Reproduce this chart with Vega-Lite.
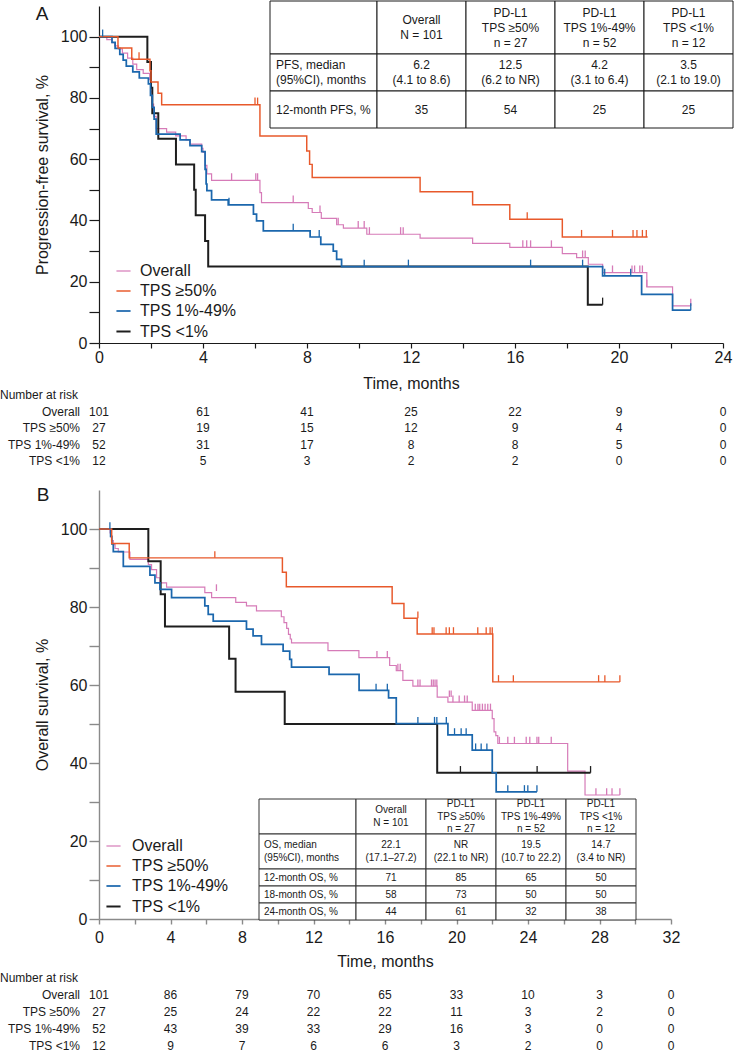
{
 "$schema": "https://vega.github.io/schema/vega-lite/v6.json",
 "padding": 0,
 "background": "white",
 "config": {"view": {"stroke": null}, "font": "Liberation Sans", "scale": {"bandPaddingInner": 0, "bandPaddingOuter": 0}},
 "datasets": {
  "curvesA": [
   {"group":"Overall","t":0,"s":100},{"group":"Overall","t":0.3,"s":99},{"group":"Overall","t":0.5,"s":98},{"group":"Overall","t":0.6,"s":97},{"group":"Overall","t":0.75,"s":96},{"group":"Overall","t":0.9,"s":94.6},{"group":"Overall","t":1.1,"s":93},{"group":"Overall","t":1.3,"s":91},{"group":"Overall","t":1.45,"s":89.2},{"group":"Overall","t":1.7,"s":88},{"group":"Overall","t":1.95,"s":86},{"group":"Overall","t":2.0,"s":82},{"group":"Overall","t":2.05,"s":78},{"group":"Overall","t":2.1,"s":74},{"group":"Overall","t":2.2,"s":70},{"group":"Overall","t":2.6,"s":68.8},{"group":"Overall","t":2.95,"s":67.6},{"group":"Overall","t":3.35,"s":66.3},{"group":"Overall","t":3.5,"s":64.9},{"group":"Overall","t":3.95,"s":63.5},{"group":"Overall","t":4.0,"s":62.2},{"group":"Overall","t":4.08,"s":58},{"group":"Overall","t":4.15,"s":55.2},{"group":"Overall","t":4.33,"s":53.1},{"group":"Overall","t":6.19,"s":49.1},{"group":"Overall","t":6.25,"s":45.8},{"group":"Overall","t":8.05,"s":43.9},{"group":"Overall","t":8.2,"s":42.6},{"group":"Overall","t":8.55,"s":40.7},{"group":"Overall","t":9.14,"s":38.6},{"group":"Overall","t":9.4,"s":37.5},{"group":"Overall","t":10.3,"s":35.5},{"group":"Overall","t":12.35,"s":34.2},{"group":"Overall","t":14.37,"s":32.5},{"group":"Overall","t":15.8,"s":31.2},{"group":"Overall","t":17.82,"s":29.2},{"group":"Overall","t":18.37,"s":27.9},{"group":"Overall","t":18.82,"s":25.7},{"group":"Overall","t":19.37,"s":23.0},{"group":"Overall","t":21.07,"s":18.3},{"group":"Overall","t":22.06,"s":12.1},{"group":"Overall","t":22.76,"s":12.1},
   {"group":"TPS <1%","t":0,"s":100},{"group":"TPS <1%","t":1.86,"s":91.7},{"group":"TPS <1%","t":2.0,"s":83.3},{"group":"TPS <1%","t":2.05,"s":75},{"group":"TPS <1%","t":2.28,"s":66.7},{"group":"TPS <1%","t":2.96,"s":58.3},{"group":"TPS <1%","t":3.66,"s":50},{"group":"TPS <1%","t":3.72,"s":41.7},{"group":"TPS <1%","t":4.08,"s":33.3},{"group":"TPS <1%","t":4.2,"s":25},{"group":"TPS <1%","t":18.8,"s":12.5},{"group":"TPS <1%","t":19.37,"s":12.5},
   {"group":"TPS 1%-49%","t":0,"s":100},{"group":"TPS 1%-49%","t":0.5,"s":98.1},{"group":"TPS 1%-49%","t":0.62,"s":96.2},{"group":"TPS 1%-49%","t":0.8,"s":94.2},{"group":"TPS 1%-49%","t":0.93,"s":92.3},{"group":"TPS 1%-49%","t":1.05,"s":90.4},{"group":"TPS 1%-49%","t":1.3,"s":88.5},{"group":"TPS 1%-49%","t":1.55,"s":86.5},{"group":"TPS 1%-49%","t":1.9,"s":84.6},{"group":"TPS 1%-49%","t":1.98,"s":80.8},{"group":"TPS 1%-49%","t":2.05,"s":76.9},{"group":"TPS 1%-49%","t":2.12,"s":73.1},{"group":"TPS 1%-49%","t":2.2,"s":68.2},{"group":"TPS 1%-49%","t":3.12,"s":66.3},{"group":"TPS 1%-49%","t":3.5,"s":64.4},{"group":"TPS 1%-49%","t":3.95,"s":62.5},{"group":"TPS 1%-49%","t":4.08,"s":56.7},{"group":"TPS 1%-49%","t":4.12,"s":51.9},{"group":"TPS 1%-49%","t":4.15,"s":49.7},{"group":"TPS 1%-49%","t":4.33,"s":46.7},{"group":"TPS 1%-49%","t":4.97,"s":45.1},{"group":"TPS 1%-49%","t":5.94,"s":42.1},{"group":"TPS 1%-49%","t":6.06,"s":39.9},{"group":"TPS 1%-49%","t":6.32,"s":36.6},{"group":"TPS 1%-49%","t":8.12,"s":34.6},{"group":"TPS 1%-49%","t":8.53,"s":32.2},{"group":"TPS 1%-49%","t":9.01,"s":30.0},{"group":"TPS 1%-49%","t":9.14,"s":27.3},{"group":"TPS 1%-49%","t":9.33,"s":24.9},{"group":"TPS 1%-49%","t":19.37,"s":21.9},{"group":"TPS 1%-49%","t":20.87,"s":15.9},{"group":"TPS 1%-49%","t":22.06,"s":10.7},{"group":"TPS 1%-49%","t":22.76,"s":10.7},
   {"group":"TPS ≥50%","t":0,"s":100},{"group":"TPS ≥50%","t":0.73,"s":96.3},{"group":"TPS ≥50%","t":1.26,"s":92.6},{"group":"TPS ≥50%","t":1.96,"s":88.9},{"group":"TPS ≥50%","t":2.0,"s":85.2},{"group":"TPS ≥50%","t":2.27,"s":81.5},{"group":"TPS ≥50%","t":2.41,"s":77.8},{"group":"TPS ≥50%","t":6.19,"s":67.6},{"group":"TPS ≥50%","t":7.99,"s":62.7},{"group":"TPS ≥50%","t":8.1,"s":58.3},{"group":"TPS ≥50%","t":8.2,"s":54.0},{"group":"TPS ≥50%","t":12.35,"s":49.4},{"group":"TPS ≥50%","t":14.37,"s":45.1},{"group":"TPS ≥50%","t":15.8,"s":40.4},{"group":"TPS ≥50%","t":17.82,"s":34.6},{"group":"TPS ≥50%","t":21.1,"s":34.6}
  ],
  "censA": [
   {"group":"Overall","t":5.1,"s":53.1},{"group":"Overall","t":6.03,"s":53.1},{"group":"Overall","t":6.1,"s":53.1},{"group":"Overall","t":7.47,"s":45.8},{"group":"Overall","t":8.5,"s":42.6},{"group":"Overall","t":9.2,"s":38.6},{"group":"Overall","t":9.97,"s":37.5},{"group":"Overall","t":10.2,"s":37.5},{"group":"Overall","t":10.4,"s":35.5},{"group":"Overall","t":11.6,"s":35.5},{"group":"Overall","t":11.7,"s":35.5},{"group":"Overall","t":16.3,"s":31.2},{"group":"Overall","t":16.45,"s":31.2},{"group":"Overall","t":16.6,"s":31.2},{"group":"Overall","t":17.4,"s":31.2},{"group":"Overall","t":18.6,"s":27.9},{"group":"Overall","t":18.7,"s":27.9},{"group":"Overall","t":19.75,"s":23},{"group":"Overall","t":20.5,"s":23},{"group":"Overall","t":20.6,"s":23},{"group":"Overall","t":20.8,"s":23},{"group":"Overall","t":20.9,"s":23},{"group":"Overall","t":21.07,"s":18.3},{"group":"Overall","t":22.76,"s":12.1},
   {"group":"TPS <1%","t":19.37,"s":12.5},
   {"group":"TPS 1%-49%","t":0.14,"s":100},{"group":"TPS 1%-49%","t":5.0,"s":45.1},{"group":"TPS 1%-49%","t":7.47,"s":36.6},{"group":"TPS 1%-49%","t":8.47,"s":34.6},{"group":"TPS 1%-49%","t":10.2,"s":24.9},{"group":"TPS 1%-49%","t":11.9,"s":24.9},{"group":"TPS 1%-49%","t":16.6,"s":24.9},{"group":"TPS 1%-49%","t":18.6,"s":24.9},{"group":"TPS 1%-49%","t":19.45,"s":21.9},{"group":"TPS 1%-49%","t":20.45,"s":21.9},{"group":"TPS 1%-49%","t":22.76,"s":10.7},
   {"group":"TPS ≥50%","t":1.54,"s":92.6},{"group":"TPS ≥50%","t":6.0,"s":77.8},{"group":"TPS ≥50%","t":6.1,"s":77.8},{"group":"TPS ≥50%","t":16.47,"s":40.4},{"group":"TPS ≥50%","t":18.56,"s":34.6},{"group":"TPS ≥50%","t":19.75,"s":34.6},{"group":"TPS ≥50%","t":20.54,"s":34.6},{"group":"TPS ≥50%","t":20.69,"s":34.6},{"group":"TPS ≥50%","t":20.9,"s":34.6},{"group":"TPS ≥50%","t":21.05,"s":34.6}
  ],
  "riskA": [
   {"group":"Overall","t":0,"n":101},{"group":"Overall","t":4,"n":61},{"group":"Overall","t":8,"n":41},{"group":"Overall","t":12,"n":25},{"group":"Overall","t":16,"n":22},{"group":"Overall","t":20,"n":9},{"group":"Overall","t":24,"n":0},
   {"group":"TPS ≥50%","t":0,"n":27},{"group":"TPS ≥50%","t":4,"n":19},{"group":"TPS ≥50%","t":8,"n":15},{"group":"TPS ≥50%","t":12,"n":12},{"group":"TPS ≥50%","t":16,"n":9},{"group":"TPS ≥50%","t":20,"n":4},{"group":"TPS ≥50%","t":24,"n":0},
   {"group":"TPS 1%-49%","t":0,"n":52},{"group":"TPS 1%-49%","t":4,"n":31},{"group":"TPS 1%-49%","t":8,"n":17},{"group":"TPS 1%-49%","t":12,"n":8},{"group":"TPS 1%-49%","t":16,"n":8},{"group":"TPS 1%-49%","t":20,"n":5},{"group":"TPS 1%-49%","t":24,"n":0},
   {"group":"TPS <1%","t":0,"n":12},{"group":"TPS <1%","t":4,"n":5},{"group":"TPS <1%","t":8,"n":3},{"group":"TPS <1%","t":12,"n":2},{"group":"TPS <1%","t":16,"n":2},{"group":"TPS <1%","t":20,"n":0},{"group":"TPS <1%","t":24,"n":0}
  ],
  "tabA": [
   {"col":"label","row":"head","text":""},
   {"col":"Overall","row":"head","text":"Overall\nN = 101"},
   {"col":"TPS ≥50%","row":"head","text":"PD-L1\nTPS ≥50%\nn = 27"},
   {"col":"TPS 1%-49%","row":"head","text":"PD-L1\nTPS 1%-49%\nn = 52"},
   {"col":"TPS <1%","row":"head","text":"PD-L1\nTPS <1%\nn = 12"},
   {"col":"label","row":"median","text":"PFS, median\n(95%CI), months"},
   {"col":"Overall","row":"median","text":"6.2\n(4.1 to 8.6)"},
   {"col":"TPS ≥50%","row":"median","text":"12.5\n(6.2 to NR)"},
   {"col":"TPS 1%-49%","row":"median","text":"4.2\n(3.1 to 6.4)"},
   {"col":"TPS <1%","row":"median","text":"3.5\n(2.1 to 19.0)"},
   {"col":"label","row":"m12","text":"12-month PFS, %"},
   {"col":"Overall","row":"m12","text":"35"},
   {"col":"TPS ≥50%","row":"m12","text":"54"},
   {"col":"TPS 1%-49%","row":"m12","text":"25"},
   {"col":"TPS <1%","row":"m12","text":"25"}
  ],
  "curvesB": [
   {"group":"Overall","t":0,"s":100},{"group":"Overall","t":0.62,"s":99},{"group":"Overall","t":0.66,"s":98},{"group":"Overall","t":0.7,"s":97},{"group":"Overall","t":0.8,"s":96},{"group":"Overall","t":0.9,"s":95},{"group":"Overall","t":1.08,"s":94.1},{"group":"Overall","t":1.73,"s":92.2},{"group":"Overall","t":2.76,"s":90.9},{"group":"Overall","t":2.94,"s":89.6},{"group":"Overall","t":3.22,"s":87.5},{"group":"Overall","t":3.41,"s":86.2},{"group":"Overall","t":3.78,"s":85.1},{"group":"Overall","t":5.92,"s":83.7},{"group":"Overall","t":6.3,"s":82.4},{"group":"Overall","t":7.65,"s":81.2},{"group":"Overall","t":8.25,"s":80.3},{"group":"Overall","t":8.81,"s":79.0},{"group":"Overall","t":10.2,"s":77.5},{"group":"Overall","t":10.35,"s":76},{"group":"Overall","t":10.5,"s":74.5},{"group":"Overall","t":10.6,"s":73},{"group":"Overall","t":10.7,"s":71.8},{"group":"Overall","t":10.77,"s":70.8},{"group":"Overall","t":12.81,"s":68.8},{"group":"Overall","t":14.54,"s":67.0},{"group":"Overall","t":16.26,"s":65.0},{"group":"Overall","t":16.63,"s":63.7},{"group":"Overall","t":17.0,"s":61.2},{"group":"Overall","t":17.56,"s":59.7},{"group":"Overall","t":18.92,"s":56.9},{"group":"Overall","t":19.52,"s":55.6},{"group":"Overall","t":20.88,"s":53.5},{"group":"Overall","t":22.0,"s":51.4},{"group":"Overall","t":22.1,"s":48.0},{"group":"Overall","t":22.2,"s":47.0},{"group":"Overall","t":22.31,"s":45.0},{"group":"Overall","t":26.22,"s":37.9},{"group":"Overall","t":27.19,"s":31.8},{"group":"Overall","t":29.14,"s":31.8},
   {"group":"TPS <1%","t":0,"s":100},{"group":"TPS <1%","t":2.76,"s":91.7},{"group":"TPS <1%","t":3.45,"s":83.3},{"group":"TPS <1%","t":3.69,"s":75},{"group":"TPS <1%","t":7.28,"s":66.7},{"group":"TPS <1%","t":7.64,"s":58.3},{"group":"TPS <1%","t":10.39,"s":50},{"group":"TPS <1%","t":18.92,"s":37.5},{"group":"TPS <1%","t":27.5,"s":37.5},
   {"group":"TPS 1%-49%","t":0,"s":100},{"group":"TPS 1%-49%","t":0.65,"s":98.1},{"group":"TPS 1%-49%","t":0.72,"s":96.2},{"group":"TPS 1%-49%","t":0.8,"s":94.2},{"group":"TPS 1%-49%","t":1.36,"s":90.4},{"group":"TPS 1%-49%","t":2.85,"s":88.2},{"group":"TPS 1%-49%","t":3.13,"s":86.2},{"group":"TPS 1%-49%","t":3.41,"s":84.5},{"group":"TPS 1%-49%","t":4.06,"s":82.4},{"group":"TPS 1%-49%","t":5.92,"s":80.3},{"group":"TPS 1%-49%","t":6.11,"s":78.1},{"group":"TPS 1%-49%","t":6.39,"s":76.4},{"group":"TPS 1%-49%","t":8.25,"s":74.3},{"group":"TPS 1%-49%","t":8.62,"s":72.6},{"group":"TPS 1%-49%","t":9.09,"s":70.4},{"group":"TPS 1%-49%","t":10.3,"s":68.7},{"group":"TPS 1%-49%","t":10.67,"s":66.6},{"group":"TPS 1%-49%","t":10.77,"s":64.6},{"group":"TPS 1%-49%","t":12.87,"s":62.7},{"group":"TPS 1%-49%","t":14.55,"s":58.6},{"group":"TPS 1%-49%","t":16.2,"s":56.7},{"group":"TPS 1%-49%","t":16.63,"s":50.1},{"group":"TPS 1%-49%","t":19.52,"s":47.2},{"group":"TPS 1%-49%","t":20.88,"s":43.3},{"group":"TPS 1%-49%","t":22.0,"s":37.5},{"group":"TPS 1%-49%","t":22.22,"s":32.6},{"group":"TPS 1%-49%","t":24.5,"s":32.6},
   {"group":"TPS ≥50%","t":0,"s":100},{"group":"TPS ≥50%","t":0.71,"s":96.3},{"group":"TPS ≥50%","t":1.69,"s":92.6},{"group":"TPS ≥50%","t":10.26,"s":88.9},{"group":"TPS ≥50%","t":10.48,"s":85.2},{"group":"TPS ≥50%","t":16.4,"s":80.9},{"group":"TPS ≥50%","t":17.06,"s":77.1},{"group":"TPS ≥50%","t":17.8,"s":73.1},{"group":"TPS ≥50%","t":22.03,"s":60.8},{"group":"TPS ≥50%","t":29.14,"s":60.8}
  ],
  "censB": [
   {"group":"Overall","t":6.57,"s":84.1},{"group":"Overall","t":15.55,"s":67},{"group":"Overall","t":16.13,"s":67},{"group":"Overall","t":16.72,"s":63.7},{"group":"Overall","t":16.85,"s":63.7},{"group":"Overall","t":17.84,"s":59.7},{"group":"Overall","t":17.96,"s":59.7},{"group":"Overall","t":18.6,"s":59.7},{"group":"Overall","t":18.7,"s":59.7},{"group":"Overall","t":18.8,"s":59.7},{"group":"Overall","t":18.9,"s":59.7},{"group":"Overall","t":19.6,"s":56.9},{"group":"Overall","t":19.7,"s":56.9},{"group":"Overall","t":19.8,"s":55.6},{"group":"Overall","t":20.15,"s":55.6},{"group":"Overall","t":20.45,"s":55.6},{"group":"Overall","t":20.6,"s":55.6},{"group":"Overall","t":21.05,"s":53.5},{"group":"Overall","t":21.2,"s":53.5},{"group":"Overall","t":21.3,"s":53.5},{"group":"Overall","t":21.45,"s":53.5},{"group":"Overall","t":21.6,"s":53.5},{"group":"Overall","t":21.75,"s":53.5},{"group":"Overall","t":21.9,"s":53.5},{"group":"Overall","t":22.4,"s":45},{"group":"Overall","t":22.87,"s":45},{"group":"Overall","t":23.24,"s":45},{"group":"Overall","t":23.9,"s":45},{"group":"Overall","t":24.1,"s":45},{"group":"Overall","t":24.5,"s":45},{"group":"Overall","t":24.6,"s":45},{"group":"Overall","t":25.3,"s":45},{"group":"Overall","t":27.8,"s":31.8},{"group":"Overall","t":28.4,"s":31.8},{"group":"Overall","t":28.7,"s":31.8},{"group":"Overall","t":29.14,"s":31.8},
   {"group":"TPS <1%","t":20.22,"s":37.5},{"group":"TPS <1%","t":24.51,"s":37.5},{"group":"TPS <1%","t":27.5,"s":37.5},
   {"group":"TPS 1%-49%","t":0.61,"s":100},{"group":"TPS 1%-49%","t":15.5,"s":58.6},{"group":"TPS 1%-49%","t":16.13,"s":58.6},{"group":"TPS 1%-49%","t":17.84,"s":50.1},{"group":"TPS 1%-49%","t":18.77,"s":50.1},{"group":"TPS 1%-49%","t":18.9,"s":50.1},{"group":"TPS 1%-49%","t":19.43,"s":50.1},{"group":"TPS 1%-49%","t":19.89,"s":47.2},{"group":"TPS 1%-49%","t":20.26,"s":47.2},{"group":"TPS 1%-49%","t":20.54,"s":47.2},{"group":"TPS 1%-49%","t":21.07,"s":43.3},{"group":"TPS 1%-49%","t":21.38,"s":43.3},{"group":"TPS 1%-49%","t":21.7,"s":43.3},{"group":"TPS 1%-49%","t":22.87,"s":32.6},{"group":"TPS 1%-49%","t":23.8,"s":32.6},{"group":"TPS 1%-49%","t":23.99,"s":32.6},{"group":"TPS 1%-49%","t":24.5,"s":32.6},
   {"group":"TPS ≥50%","t":6.48,"s":92.6},{"group":"TPS ≥50%","t":17.84,"s":77.1},{"group":"TPS ≥50%","t":18.64,"s":73.1},{"group":"TPS ≥50%","t":18.74,"s":73.1},{"group":"TPS ≥50%","t":19.42,"s":73.1},{"group":"TPS ≥50%","t":19.6,"s":73.1},{"group":"TPS ≥50%","t":19.83,"s":73.1},{"group":"TPS ≥50%","t":21.19,"s":73.1},{"group":"TPS ≥50%","t":21.66,"s":73.1},{"group":"TPS ≥50%","t":21.88,"s":73.1},{"group":"TPS ≥50%","t":22.0,"s":73.1},{"group":"TPS ≥50%","t":22.35,"s":60.8},{"group":"TPS ≥50%","t":23.18,"s":60.8},{"group":"TPS ≥50%","t":27.95,"s":60.8},{"group":"TPS ≥50%","t":28.3,"s":60.8},{"group":"TPS ≥50%","t":29.14,"s":60.8}
  ],
  "riskB": [
   {"group":"Overall","t":0,"n":101},{"group":"Overall","t":4,"n":86},{"group":"Overall","t":8,"n":79},{"group":"Overall","t":12,"n":70},{"group":"Overall","t":16,"n":65},{"group":"Overall","t":20,"n":33},{"group":"Overall","t":24,"n":10},{"group":"Overall","t":28,"n":3},{"group":"Overall","t":32,"n":0},
   {"group":"TPS ≥50%","t":0,"n":27},{"group":"TPS ≥50%","t":4,"n":25},{"group":"TPS ≥50%","t":8,"n":24},{"group":"TPS ≥50%","t":12,"n":22},{"group":"TPS ≥50%","t":16,"n":22},{"group":"TPS ≥50%","t":20,"n":11},{"group":"TPS ≥50%","t":24,"n":3},{"group":"TPS ≥50%","t":28,"n":2},{"group":"TPS ≥50%","t":32,"n":0},
   {"group":"TPS 1%-49%","t":0,"n":52},{"group":"TPS 1%-49%","t":4,"n":43},{"group":"TPS 1%-49%","t":8,"n":39},{"group":"TPS 1%-49%","t":12,"n":33},{"group":"TPS 1%-49%","t":16,"n":29},{"group":"TPS 1%-49%","t":20,"n":16},{"group":"TPS 1%-49%","t":24,"n":3},{"group":"TPS 1%-49%","t":28,"n":0},{"group":"TPS 1%-49%","t":32,"n":0},
   {"group":"TPS <1%","t":0,"n":12},{"group":"TPS <1%","t":4,"n":9},{"group":"TPS <1%","t":8,"n":7},{"group":"TPS <1%","t":12,"n":6},{"group":"TPS <1%","t":16,"n":6},{"group":"TPS <1%","t":20,"n":3},{"group":"TPS <1%","t":24,"n":2},{"group":"TPS <1%","t":28,"n":0},{"group":"TPS <1%","t":32,"n":0}
  ],
  "tabB": [
   {"col":"label","row":"head","text":""},
   {"col":"Overall","row":"head","text":"Overall\nN = 101"},
   {"col":"TPS ≥50%","row":"head","text":"PD-L1\nTPS ≥50%\nn = 27"},
   {"col":"TPS 1%-49%","row":"head","text":"PD-L1\nTPS 1%-49%\nn = 52"},
   {"col":"TPS <1%","row":"head","text":"PD-L1\nTPS <1%\nn = 12"},
   {"col":"label","row":"median","text":"OS, median\n(95%CI), months"},
   {"col":"Overall","row":"median","text":"22.1\n(17.1–27.2)"},
   {"col":"TPS ≥50%","row":"median","text":"NR\n(22.1 to NR)"},
   {"col":"TPS 1%-49%","row":"median","text":"19.5\n(10.7 to 22.2)"},
   {"col":"TPS <1%","row":"median","text":"14.7\n(3.4 to NR)"},
   {"col":"label","row":"m12","text":"12-month OS, %"},
   {"col":"Overall","row":"m12","text":"71"},{"col":"TPS ≥50%","row":"m12","text":"85"},{"col":"TPS 1%-49%","row":"m12","text":"65"},{"col":"TPS <1%","row":"m12","text":"50"},
   {"col":"label","row":"m18","text":"18-month OS, %"},
   {"col":"Overall","row":"m18","text":"58"},{"col":"TPS ≥50%","row":"m18","text":"73"},{"col":"TPS 1%-49%","row":"m18","text":"50"},{"col":"TPS <1%","row":"m18","text":"50"},
   {"col":"label","row":"m24","text":"24-month OS, %"},
   {"col":"Overall","row":"m24","text":"44"},{"col":"TPS ≥50%","row":"m24","text":"61"},{"col":"TPS 1%-49%","row":"m24","text":"32"},{"col":"TPS <1%","row":"m24","text":"38"}
  ]
 },
 "spacing": 147,
 "bounds": "flush",
 "resolve": {"scale": {"color": "independent", "stroke": "independent", "strokeWidth": "independent"}, "legend": {"color": "independent"}},
 "vconcat": [
  {
   "width": 624, "height": 337,
   "resolve": {"scale": {"x": "independent", "y": "independent"}},
   "layer": [
    {
     "data": {"name": "curvesA"},
     "mark": {"type": "line", "interpolate": "step-after"},
     "encoding": {
      "x": {"field": "t", "type": "quantitative", "scale": {"domain": [0, 24], "nice": false, "zero": false},
       "axis": {"title": "Time, months", "values": [0,2,4,6,8,10,12,14,16,18,20,22,24], "labelExpr": "datum.value % 4 === 0 ? datum.label : ''", "tickSize": 5, "labelPadding": 1, "labelFontSize": 16, "titleFontSize": 16, "titleFontWeight": "normal", "titlePadding": 10, "domainColor": "#1a1a1a", "tickColor": "#1a1a1a", "labelColor": "#1a1a1a", "titleColor": "#1a1a1a", "labelFlush": false, "labelOverlap": false, "grid": false, "labelFont": "Liberation Sans", "titleFont": "Liberation Sans", "domainWidth": 1.2, "tickWidth": 1.2}},
      "y": {"field": "s", "type": "quantitative", "scale": {"domain": [0, 110], "nice": false},
       "axis": {"title": "Progression-free survival, %", "values": [0,10,20,30,40,50,60,70,80,90,100], "labelExpr": "datum.value % 20 === 0 ? datum.label : ''", "tickSize": 10, "labelPadding": 2, "labelFontSize": 16, "titleFontSize": 16, "titleFontWeight": "normal", "titlePadding": 10, "domainColor": "#1a1a1a", "tickColor": "#1a1a1a", "labelColor": "#1a1a1a", "titleColor": "#1a1a1a", "labelFlush": false, "labelOverlap": false, "grid": false, "labelFont": "Liberation Sans", "titleFont": "Liberation Sans", "domainWidth": 1.2, "tickWidth": 1.2}},
      "color": {"field": "group", "type": "nominal", "scale": {"domain": ["Overall", "TPS ≥50%", "TPS 1%-49%", "TPS <1%"], "range": ["#d67bb8", "#e8592b", "#1b67ad", "#1e1e1e"]},
       "legend": {"orient": "none", "legendX": 16, "legendY": 257, "title": null, "symbolType": "M-1,0L1,0", "symbolSize": 200, "symbolStrokeWidth": 2.2, "labelFontSize": 16, "labelFont": "Liberation Sans", "labelColor": "#1a1a1a", "rowPadding": 4, "labelOffset": 8, "padding": 0}},
      "strokeWidth": {"field": "group", "type": "nominal", "scale": {"domain": ["Overall", "TPS ≥50%", "TPS 1%-49%", "TPS <1%"], "range": [1.2, 2, 2, 2]}, "legend": null}
     }
    },
    {
     "data": {"name": "censA"},
     "mark": {"type": "point", "shape": "M0,0L0,-1", "size": 200, "filled": false, "strokeWidth": 1.3, "opacity": 1},
     "encoding": {
      "x": {"field": "t", "type": "quantitative", "scale": {"domain": [0, 24], "nice": false, "zero": false}, "axis": null},
      "y": {"field": "s", "type": "quantitative", "scale": {"domain": [0, 110], "nice": false}, "axis": null},
      "stroke": {"field": "group", "type": "nominal", "scale": {"domain": ["Overall", "TPS ≥50%", "TPS 1%-49%", "TPS <1%"], "range": ["#d67bb8", "#e8592b", "#1b67ad", "#1e1e1e"]}, "legend": null}
     }
    },
    {
     "data": {"name": "tabA"},
     "transform": [{"filter": {"and": [{"field": "col", "equal": "label"}, {"field": "row", "equal": "head"}]}}],
     "encoding": {
      "x": {"field": "col", "type": "nominal", "scale": {"domain": ["label"], "range": [171, 278]}, "axis": null},
      "y": {"field": "row", "type": "nominal", "scale": {"domain": ["head"], "range": [-5, 48]}, "axis": null}
     },
     "layer": [{"mark": {"type": "rect", "fill": "white", "stroke": "#1a1a1a", "strokeWidth": 1}}]
    },
    {
     "data": {"name": "tabA"},
     "transform": [{"filter": {"and": [{"field": "col", "equal": "label"}, {"field": "row", "oneOf": ["median", "m12"]}]}}],
     "encoding": {
      "x": {"field": "col", "type": "nominal", "scale": {"domain": ["label"], "range": [171, 278]}, "axis": null},
      "y": {"field": "row", "type": "nominal", "scale": {"domain": ["median", "m12"], "range": [48, 122]}, "axis": null}
     },
     "layer": [
      {"mark": {"type": "rect", "fill": "white", "stroke": "#1a1a1a", "strokeWidth": 1}},
      {"transform": [{"filter": "datum.row === 'median'"}],
       "mark": {"type": "text", "align": "left", "baseline": "middle", "dx": 6, "dy": -7.5, "fontSize": 12, "lineHeight": 15, "lineBreak": "\n", "color": "#1a1a1a", "font": "Liberation Sans"},
       "encoding": {"x": {"field": "col", "type": "nominal", "bandPosition": 0, "scale": {"domain": ["label"], "range": [171, 278]}, "axis": null}, "text": {"field": "text"}}},
      {"transform": [{"filter": "datum.row === 'm12'"}],
       "mark": {"type": "text", "align": "left", "baseline": "middle", "dx": 6, "fontSize": 12, "color": "#1a1a1a", "font": "Liberation Sans"},
       "encoding": {"x": {"field": "col", "type": "nominal", "bandPosition": 0, "scale": {"domain": ["label"], "range": [171, 278]}, "axis": null}, "text": {"field": "text"}}}
     ]
    },
    {
     "data": {"name": "tabA"},
     "transform": [{"filter": {"and": [{"not": {"field": "col", "equal": "label"}}, {"field": "row", "equal": "head"}]}}],
     "encoding": {
      "x": {"field": "col", "type": "nominal", "scale": {"domain": ["Overall", "TPS ≥50%", "TPS 1%-49%", "TPS <1%"], "range": [278, 634]}, "axis": null},
      "y": {"field": "row", "type": "nominal", "scale": {"domain": ["head"], "range": [-5, 48]}, "axis": null}
     },
     "layer": [
      {"mark": {"type": "rect", "fill": "white", "stroke": "#1a1a1a", "strokeWidth": 1}},
      {"transform": [{"filter": "datum.col === 'Overall'"}],
       "mark": {"type": "text", "align": "center", "baseline": "middle", "dy": -7.5, "fontSize": 12, "lineHeight": 15, "lineBreak": "\n", "color": "#1a1a1a", "font": "Liberation Sans"}, "encoding": {"text": {"field": "text"}}},
      {"transform": [{"filter": "datum.col !== 'Overall'"}],
       "mark": {"type": "text", "align": "center", "baseline": "middle", "dy": -15, "fontSize": 12, "lineHeight": 15, "lineBreak": "\n", "color": "#1a1a1a", "font": "Liberation Sans"}, "encoding": {"text": {"field": "text"}}}
     ]
    },
    {
     "data": {"name": "tabA"},
     "transform": [{"filter": {"and": [{"not": {"field": "col", "equal": "label"}}, {"field": "row", "oneOf": ["median", "m12"]}]}}],
     "encoding": {
      "x": {"field": "col", "type": "nominal", "scale": {"domain": ["Overall", "TPS ≥50%", "TPS 1%-49%", "TPS <1%"], "range": [278, 634]}, "axis": null},
      "y": {"field": "row", "type": "nominal", "scale": {"domain": ["median", "m12"], "range": [48, 122]}, "axis": null}
     },
     "layer": [
      {"mark": {"type": "rect", "fill": "white", "stroke": "#1a1a1a", "strokeWidth": 1}},
      {"transform": [{"filter": "datum.row === 'median'"}],
       "mark": {"type": "text", "align": "center", "baseline": "middle", "dy": -7.5, "fontSize": 12, "lineHeight": 15, "lineBreak": "\n", "color": "#1a1a1a", "font": "Liberation Sans"}, "encoding": {"text": {"field": "text"}}},
      {"transform": [{"filter": "datum.row === 'm12'"}],
       "mark": {"type": "text", "align": "center", "baseline": "middle", "fontSize": 12, "color": "#1a1a1a", "font": "Liberation Sans"}, "encoding": {"text": {"field": "text"}}}
     ]
    },
    {
     "data": {"name": "riskA"},
     "mark": {"type": "text", "fontSize": 12, "baseline": "middle", "align": "center", "color": "#1a1a1a", "font": "Liberation Sans"},
     "encoding": {
      "x": {"field": "t", "type": "quantitative", "scale": {"domain": [0, 24], "nice": false, "zero": false}, "axis": null},
      "y": {"field": "group", "type": "nominal", "scale": {"domain": ["Number at risk", "Overall", "TPS ≥50%", "TPS 1%-49%", "TPS <1%"], "range": [380.75, 463.25]}, "axis": null},
      "text": {"field": "n"}
     }
    },
    {
     "data": {"name": "riskA"},
     "transform": [{"filter": "datum.t === 0"}],
     "mark": {"type": "text", "fontSize": 12, "baseline": "middle", "align": "right", "dx": -19, "color": "#1a1a1a", "font": "Liberation Sans"},
     "encoding": {
      "x": {"field": "t", "type": "quantitative", "scale": {"domain": [0, 24], "nice": false, "zero": false}, "axis": null},
      "y": {"field": "group", "type": "nominal", "scale": {"domain": ["Number at risk", "Overall", "TPS ≥50%", "TPS 1%-49%", "TPS <1%"], "range": [380.75, 463.25]}, "axis": null},
      "text": {"field": "group"}
     }
    },
    {
     "data": {"values": [{"label": "Number at risk", "t": 0}]},
     "mark": {"type": "text", "fontSize": 12, "baseline": "middle", "align": "left", "dx": -99, "color": "#1a1a1a", "font": "Liberation Sans"},
     "encoding": {
      "x": {"field": "t", "type": "quantitative", "scale": {"domain": [0, 24], "nice": false, "zero": false}, "axis": null},
      "y": {"field": "label", "type": "nominal", "scale": {"domain": ["Number at risk", "Overall", "TPS ≥50%", "TPS 1%-49%", "TPS <1%"], "range": [380.75, 463.25]}, "axis": null},
      "text": {"field": "label"}
     }
    },
    {
     "data": {"values": [{"panel": "A", "t": 0, "s": 110}]},
     "mark": {"type": "text", "fontSize": 19, "baseline": "middle", "align": "center", "dx": -57, "dy": 8, "color": "#1a1a1a", "font": "Liberation Sans"},
     "encoding": {
      "x": {"field": "t", "type": "quantitative", "scale": {"domain": [0, 24], "nice": false, "zero": false}, "axis": null},
      "y": {"field": "s", "type": "quantitative", "scale": {"domain": [0, 110], "nice": false}, "axis": null},
      "text": {"field": "panel"}
     }
    }
   ]
  },
  {
   "width": 572, "height": 429,
   "resolve": {"scale": {"x": "independent", "y": "independent"}},
   "layer": [
    {
     "data": {"name": "curvesB"},
     "mark": {"type": "line", "interpolate": "step-after"},
     "encoding": {
      "x": {"field": "t", "type": "quantitative", "scale": {"domain": [0, 32], "nice": false, "zero": false},
       "axis": {"title": "Time, months", "values": [0,2,4,6,8,10,12,14,16,18,20,22,24,26,28,30,32], "labelExpr": "datum.value % 4 === 0 ? datum.label : ''", "tickSize": 5, "labelPadding": 5, "labelFontSize": 16, "titleFontSize": 16, "titleFontWeight": "normal", "titlePadding": 8, "domainColor": "#8a8a8a", "tickColor": "#8a8a8a", "labelColor": "#1a1a1a", "titleColor": "#1a1a1a", "labelFlush": false, "labelOverlap": false, "grid": false, "labelFont": "Liberation Sans", "titleFont": "Liberation Sans", "domainWidth": 1.4, "tickWidth": 1.4}},
      "y": {"field": "s", "type": "quantitative", "scale": {"domain": [0, 110], "nice": false},
       "axis": {"title": "Overall survival, %", "values": [0,10,20,30,40,50,60,70,80,90,100], "labelExpr": "datum.value % 20 === 0 ? datum.label : ''", "tickSize": 10, "labelPadding": 2, "labelFontSize": 16, "titleFontSize": 16, "titleFontWeight": "normal", "titlePadding": 10, "domainColor": "#8a8a8a", "tickColor": "#8a8a8a", "labelColor": "#1a1a1a", "titleColor": "#1a1a1a", "labelFlush": false, "labelOverlap": false, "grid": false, "labelFont": "Liberation Sans", "titleFont": "Liberation Sans", "domainWidth": 1.4, "tickWidth": 1.4}},
      "color": {"field": "group", "type": "nominal", "scale": {"domain": ["Overall", "TPS ≥50%", "TPS 1%-49%", "TPS <1%"], "range": ["#d67bb8", "#e8592b", "#1b67ad", "#1e1e1e"]},
       "legend": {"orient": "none", "legendX": 6, "legendY": 348, "title": null, "symbolType": "M-1,0L1,0", "symbolSize": 200, "symbolStrokeWidth": 2.2, "labelFontSize": 16, "labelFont": "Liberation Sans", "labelColor": "#1a1a1a", "rowPadding": 4, "labelOffset": 10, "padding": 0}},
      "strokeWidth": {"field": "group", "type": "nominal", "scale": {"domain": ["Overall", "TPS ≥50%", "TPS 1%-49%", "TPS <1%"], "range": [1.2, 2, 2, 2]}, "legend": null}
     }
    },
    {
     "data": {"name": "censB"},
     "mark": {"type": "point", "shape": "M0,0L0,-1", "size": 180, "filled": false, "strokeWidth": 1.3, "opacity": 1},
     "encoding": {
      "x": {"field": "t", "type": "quantitative", "scale": {"domain": [0, 32], "nice": false, "zero": false}, "axis": null},
      "y": {"field": "s", "type": "quantitative", "scale": {"domain": [0, 110], "nice": false}, "axis": null},
      "stroke": {"field": "group", "type": "nominal", "scale": {"domain": ["Overall", "TPS ≥50%", "TPS 1%-49%", "TPS <1%"], "range": ["#d67bb8", "#e8592b", "#1b67ad", "#1e1e1e"]}, "legend": null}
     }
    },
    {
     "data": {"name": "tabB"},
     "transform": [{"filter": {"and": [{"field": "col", "equal": "label"}, {"field": "row", "oneOf": ["head", "median"]}]}}],
     "encoding": {
      "x": {"field": "col", "type": "nominal", "scale": {"domain": ["label"], "range": [160, 257]}, "axis": null},
      "y": {"field": "row", "type": "nominal", "scale": {"domain": ["head", "median"], "range": [309, 379]}, "axis": null}
     },
     "layer": [
      {"mark": {"type": "rect", "fill": "white", "stroke": "#333333", "strokeWidth": 1}},
      {"transform": [{"filter": "datum.row === 'median'"}],
       "mark": {"type": "text", "align": "left", "baseline": "middle", "dx": 5, "dy": -6.25, "fontSize": 10, "lineHeight": 12.5, "lineBreak": "\n", "color": "#1a1a1a", "font": "Liberation Sans"},
       "encoding": {"x": {"field": "col", "type": "nominal", "bandPosition": 0, "scale": {"domain": ["label"], "range": [160, 257]}, "axis": null}, "text": {"field": "text"}}}
     ]
    },
    {
     "data": {"name": "tabB"},
     "transform": [{"filter": {"and": [{"field": "col", "equal": "label"}, {"field": "row", "oneOf": ["m12", "m18", "m24"]}]}}],
     "encoding": {
      "x": {"field": "col", "type": "nominal", "scale": {"domain": ["label"], "range": [160, 257]}, "axis": null},
      "y": {"field": "row", "type": "nominal", "scale": {"domain": ["m12", "m18", "m24"], "range": [379, 430]}, "axis": null}
     },
     "layer": [
      {"mark": {"type": "rect", "fill": "white", "stroke": "#333333", "strokeWidth": 1}},
      {"mark": {"type": "text", "align": "left", "baseline": "middle", "dx": 5, "fontSize": 10, "color": "#1a1a1a", "font": "Liberation Sans"},
       "encoding": {"x": {"field": "col", "type": "nominal", "bandPosition": 0, "scale": {"domain": ["label"], "range": [160, 257]}, "axis": null}, "text": {"field": "text"}}}
     ]
    },
    {
     "data": {"name": "tabB"},
     "transform": [{"filter": {"and": [{"not": {"field": "col", "equal": "label"}}, {"field": "row", "oneOf": ["head", "median"]}]}}],
     "encoding": {
      "x": {"field": "col", "type": "nominal", "scale": {"domain": ["Overall", "TPS ≥50%", "TPS 1%-49%", "TPS <1%"], "range": [257, 537]}, "axis": null},
      "y": {"field": "row", "type": "nominal", "scale": {"domain": ["head", "median"], "range": [309, 379]}, "axis": null}
     },
     "layer": [
      {"mark": {"type": "rect", "fill": "white", "stroke": "#333333", "strokeWidth": 1}},
      {"transform": [{"filter": "datum.row === 'median' || datum.col === 'Overall'"}],
       "mark": {"type": "text", "align": "center", "baseline": "middle", "dy": -6.25, "fontSize": 10, "lineHeight": 12.5, "lineBreak": "\n", "color": "#1a1a1a", "font": "Liberation Sans"}, "encoding": {"text": {"field": "text"}}},
      {"transform": [{"filter": "datum.row === 'head' && datum.col !== 'Overall'"}],
       "mark": {"type": "text", "align": "center", "baseline": "middle", "dy": -12.5, "fontSize": 10, "lineHeight": 12.5, "lineBreak": "\n", "color": "#1a1a1a", "font": "Liberation Sans"}, "encoding": {"text": {"field": "text"}}}
     ]
    },
    {
     "data": {"name": "tabB"},
     "transform": [{"filter": {"and": [{"not": {"field": "col", "equal": "label"}}, {"field": "row", "oneOf": ["m12", "m18", "m24"]}]}}],
     "encoding": {
      "x": {"field": "col", "type": "nominal", "scale": {"domain": ["Overall", "TPS ≥50%", "TPS 1%-49%", "TPS <1%"], "range": [257, 537]}, "axis": null},
      "y": {"field": "row", "type": "nominal", "scale": {"domain": ["m12", "m18", "m24"], "range": [379, 430]}, "axis": null}
     },
     "layer": [
      {"mark": {"type": "rect", "fill": "white", "stroke": "#333333", "strokeWidth": 1}},
      {"mark": {"type": "text", "align": "center", "baseline": "middle", "fontSize": 10, "color": "#1a1a1a", "font": "Liberation Sans"}, "encoding": {"text": {"field": "text"}}}
     ]
    },
    {
     "data": {"name": "riskB"},
     "mark": {"type": "text", "fontSize": 12, "baseline": "middle", "align": "center", "color": "#1a1a1a", "font": "Liberation Sans"},
     "encoding": {
      "x": {"field": "t", "type": "quantitative", "scale": {"domain": [0, 32], "nice": false, "zero": false}, "axis": null},
      "y": {"field": "group", "type": "nominal", "scale": {"domain": ["Number at risk", "Overall", "TPS ≥50%", "TPS 1%-49%", "TPS <1%"], "range": [479, 564]}, "axis": null},
      "text": {"field": "n"}
     }
    },
    {
     "data": {"name": "riskB"},
     "transform": [{"filter": "datum.t === 0"}],
     "mark": {"type": "text", "fontSize": 12, "baseline": "middle", "align": "right", "dx": -19, "color": "#1a1a1a", "font": "Liberation Sans"},
     "encoding": {
      "x": {"field": "t", "type": "quantitative", "scale": {"domain": [0, 32], "nice": false, "zero": false}, "axis": null},
      "y": {"field": "group", "type": "nominal", "scale": {"domain": ["Number at risk", "Overall", "TPS ≥50%", "TPS 1%-49%", "TPS <1%"], "range": [479, 564]}, "axis": null},
      "text": {"field": "group"}
     }
    },
    {
     "data": {"values": [{"label": "Number at risk", "t": 0}]},
     "mark": {"type": "text", "fontSize": 12, "baseline": "middle", "align": "left", "dx": -99, "color": "#1a1a1a", "font": "Liberation Sans"},
     "encoding": {
      "x": {"field": "t", "type": "quantitative", "scale": {"domain": [0, 32], "nice": false, "zero": false}, "axis": null},
      "y": {"field": "label", "type": "nominal", "scale": {"domain": ["Number at risk", "Overall", "TPS ≥50%", "TPS 1%-49%", "TPS <1%"], "range": [479, 564]}, "axis": null},
      "text": {"field": "label"}
     }
    },
    {
     "data": {"values": [{"panel": "B", "t": 0, "s": 110}]},
     "mark": {"type": "text", "fontSize": 19, "baseline": "middle", "align": "center", "dx": -56, "dy": 5, "color": "#1a1a1a", "font": "Liberation Sans"},
     "encoding": {
      "x": {"field": "t", "type": "quantitative", "scale": {"domain": [0, 32], "nice": false, "zero": false}, "axis": null},
      "y": {"field": "s", "type": "quantitative", "scale": {"domain": [0, 110], "nice": false}, "axis": null},
      "text": {"field": "panel"}
     }
    }
   ]
  }
 ]
}
